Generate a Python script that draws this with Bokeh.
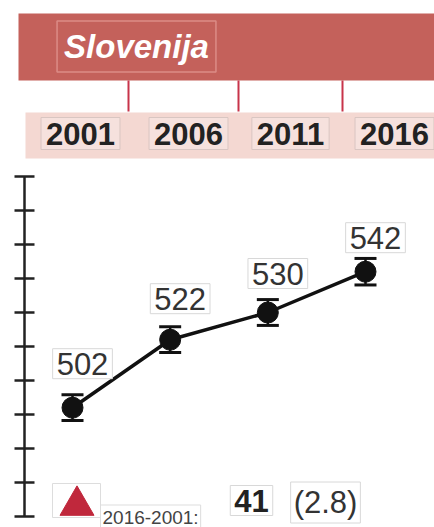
from bokeh.plotting import figure
from bokeh.models import (ColumnDataSource, LinearAxis, FixedTicker, Whisker,
                          TeeHead, Label)
from bokeh.embed import file_html
from bokeh.resources import INLINE

# ---------------- data ----------------
COUNTRY = "Slovenija"
YEARS = [2001, 2006, 2011, 2016]
YEAR_LABELS = ["2001", "2006", "2011", "2016"]
SCORES = [502, 522, 530, 542]
CI_HALF = [3.8, 3.8, 3.8, 3.9]
Y_TICKS = [470, 480, 490, 500, 510, 520, 530, 540, 550, 560, 570]
CHANGE_TEXT = "2016-2001:"
CHANGE = "41"
CHANGE_SE = "(2.8)"

# ---------------- layout calibration (page pixels) ----------------
W, H = 434, 527
PX_PER_YEAR = 19.533
PX_PER_POINT = 3.4
REF_X_PAGE, REF_YEAR = 72.0, 2001
REF_Y_PAGE, REF_VAL = 516.0, 470
LABEL_LIFT = [44, 41, 39, 34]   # px above each point


def X(px):
    return REF_YEAR + (px - REF_X_PAGE) / PX_PER_YEAR


def Y(py):
    return REF_VAL - (py - REF_Y_PAGE) / PX_PER_POINT


FONT = "Liberation Sans"
p = figure(width=W, height=H, x_range=(X(0), X(W)), y_range=(Y(H), Y(0)),
           x_axis_location=None, y_axis_location=None, toolbar_location=None,
           output_backend="svg", min_border=0, outline_line_color=None,
           background_fill_color="white", border_fill_color="white")
p.grid.grid_line_color = None

# header band
p.quad(left=X(18), right=X(445), top=Y(13), bottom=Y(80),
       fill_color="#c4615b", line_color=None)
# year band
p.quad(left=X(25), right=X(445), top=Y(112), bottom=Y(158),
       fill_color="#f4d8d2", line_color=None)
# separators
SEP_PX = [128, 238, 342]
p.segment(x0=[X(s) for s in SEP_PX], y0=Y(80), x1=[X(s) for s in SEP_PX], y1=Y(111),
          line_color="#c8344a", line_width=2)

p.add_layout(Label(x=X(136), y=Y(46), text=COUNTRY, text_align="center",
                   text_baseline="middle", text_font=FONT, text_font_size="33px",
                   text_font_style="bold italic", text_color="white",
                   border_line_color="#dc8c86", border_line_width=1.5,
                   padding=7))

YEAR_LABEL_PX = [80, 188, 290, 394]
for t, xp in zip(YEAR_LABELS, YEAR_LABEL_PX):
    p.add_layout(Label(x=X(xp), y=Y(133), text=t, text_align="center",
                       text_baseline="middle", text_font=FONT,
                       text_font_size="31px", text_font_style="bold",
                       text_color="#222222", background_fill_color="#f6e1dd",
                       border_line_color="#d9c6c2", border_line_width=1,
                       padding=5))

# y axis
ax = LinearAxis(fixed_location=X(24), ticker=FixedTicker(ticks=Y_TICKS),
                bounds=(Y_TICKS[0], Y_TICKS[-1]),
                major_tick_in=10, major_tick_out=10,
                minor_tick_line_color=None,
                axis_line_width=2.5, major_tick_line_width=2.5,
                axis_line_color="#222222", major_tick_line_color="#222222",
                major_label_overrides={t: "" for t in Y_TICKS},
                major_label_text_color=None)
p.add_layout(ax, "left")

# data
src = ColumnDataSource(dict(
    year=YEARS, score=SCORES,
    upper=[s + e for s, e in zip(SCORES, CI_HALF)],
    lower=[s - e for s, e in zip(SCORES, CI_HALF)],
))
p.line("year", "score", source=src, line_width=3.5, line_color="#111111")
w = Whisker(base="year", upper="upper", lower="lower", source=src,
            line_width=2.5, line_color="#111111",
            upper_head=TeeHead(size=22, line_width=3, line_color="#111111"),
            lower_head=TeeHead(size=22, line_width=3, line_color="#111111"))
p.add_layout(w)
p.scatter("year", "score", source=src, size=21, color="#111111")

for yr, sc, lift in zip(YEARS, SCORES, LABEL_LIFT):
    p.add_layout(Label(x=yr, y=sc, text=str(sc), x_offset=10, y_offset=lift,
                       text_align="center", text_baseline="middle",
                       text_font=FONT, text_font_size="31px",
                       text_color="#333333", background_fill_color="white",
                       border_line_color="#d8d8d8", border_line_width=1,
                       padding=4))

# change indicator
p.quad(left=X(52), right=X(100), top=Y(483), bottom=Y(517),
       fill_color="white", line_color="#dddddd", line_width=1)
p.scatter(x=X(76.5), y=Y(505), marker="triangle", size=34,
          color="#c0283c")
p.add_layout(Label(x=X(100), y=Y(517), text=CHANGE_TEXT, text_align="left",
                   text_baseline="middle", text_font=FONT, text_font_size="19px",
                   text_color="#444444", background_fill_color="white",
                   border_line_color="#dddddd", padding=2))
p.add_layout(Label(x=X(251), y=Y(500), text=CHANGE, text_align="center",
                   text_baseline="middle", text_font=FONT, text_font_size="31px",
                   text_font_style="bold", text_color="#222222",
                   background_fill_color="white", border_line_color="#d8d8d8",
                   padding=4))
p.add_layout(Label(x=X(325), y=Y(502), text=CHANGE_SE, text_align="center",
                   text_baseline="middle", text_font=FONT, text_font_size="31px",
                   text_color="#333333", background_fill_color="white",
                   border_line_color="#d8d8d8", padding=3))

open("out.html", "w").write(file_html(p, INLINE))
